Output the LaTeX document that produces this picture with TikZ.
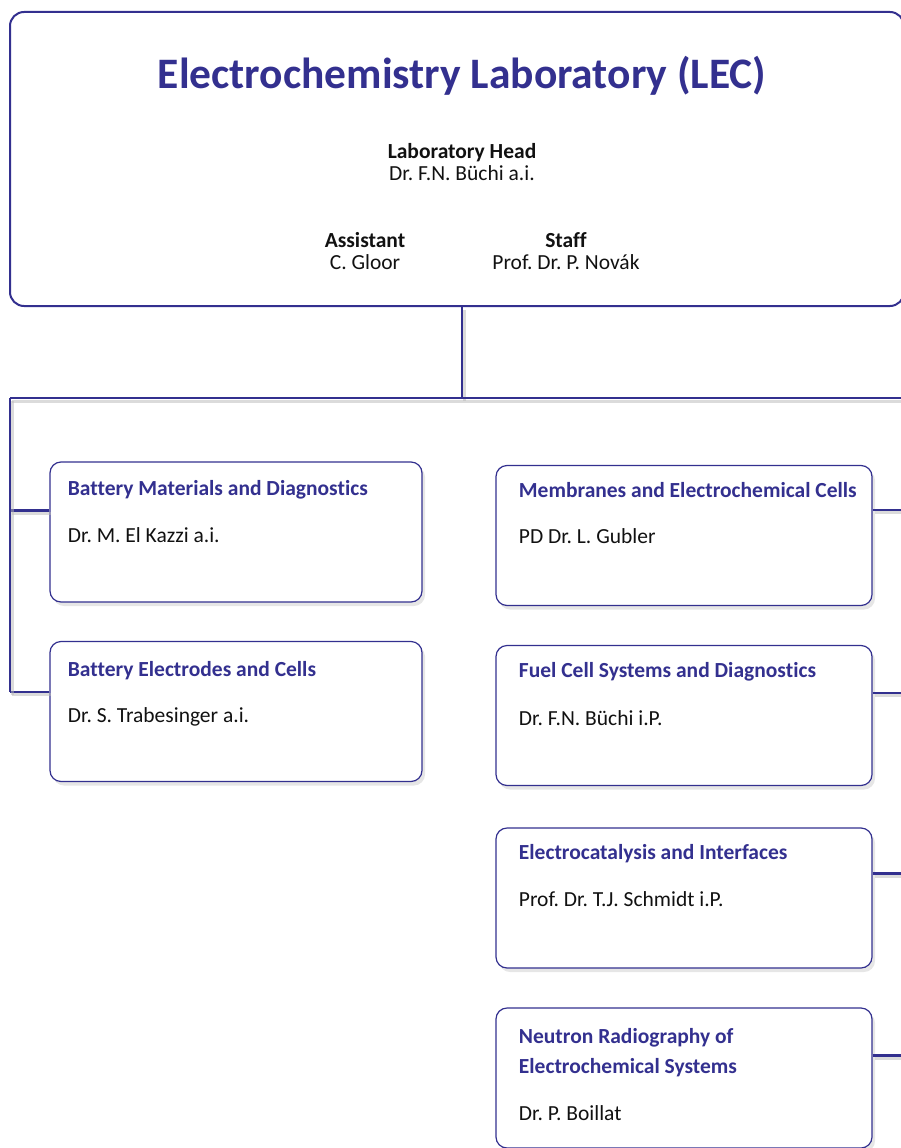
\documentclass[tikz,border=0pt]{standalone}
\usepackage{fontspec}
\setmainfont[Ligatures=NoCommon]{Carlito}
\usetikzlibrary{positioning, calc, shadows}
\definecolor{LabBlue}{HTML}{33308F}
\definecolor{Ink}{HTML}{111111}
\definecolor{Shade}{HTML}{B8B8B8}
\tikzset{
    headbox/.style={rectangle, rounded corners=14pt, draw=LabBlue, line width=2pt, minimum width=894pt, minimum height=294pt},
    unitbox/.style={rectangle, rounded corners=11pt, draw=LabBlue, line width=1.2pt, fill=white, minimum width=372pt, minimum height=140pt,
        drop shadow={shadow xshift=3pt, shadow yshift=-4pt, opacity=0.35, fill=Shade}},
    labtitle/.style={text=LabBlue, font=\fontsize{43.5}{50}\selectfont\bfseries},
    rolename/.style={text=Ink, align=center, font=\fontsize{21.5}{22}\selectfont},
    unittitle/.style={anchor=west, text=LabBlue, align=left, font=\fontsize{21.5}{30}\selectfont\bfseries},
    person/.style={anchor=west, text=Ink, font=\fontsize{21.5}{26}\selectfont},
    link/.style={draw=LabBlue, line width=2.2pt,
        preaction={draw=Shade, opacity=0.5, line width=3pt, transform canvas={shift={(2pt,-3pt)}}}},
}

\begin{document}
\frenchspacing
\begin{tikzpicture}[x=1pt, y=-1pt]
    \useasboundingbox (0,0) rectangle (901,1148);

    % Kopf
    \node[headbox] (lab) at (457,159) {};
    \node[labtitle] (title) at (462,76) {Electrochemistry Laboratory (LEC)};
    \node[rolename] (head) at (462,162) {\textbf{Laboratory Head}\\Dr. F.N. Büchi a.i.};
    \node[rolename] (assist) at (365,251) {\textbf{Assistant}\\C. Gloor};
    \node[rolename] (staff) at (566,251) {\textbf{Staff}\\Prof. Dr. P. Novák};

    % Sammelschienen
    \coordinate (hub) at (462,398);
    \coordinate (lbus) at (10,398);
    \coordinate (rbus) at (910,398);

    % Gruppen links
    \node[unitbox] (b1) at (236,532) {};
    \node[unitbox] (b2) at (236,711.5) {};
    % Gruppen rechts
    \node[unitbox, minimum width=376pt] (b3) at (684,535.5) {};
    \node[unitbox, minimum width=376pt] (b4) at (684,715.5) {};
    \node[unitbox, minimum width=376pt] (b5) at (684,898) {};
    \node[unitbox, minimum width=376pt] (b6) at (684,1078) {};

    % Texte
    \node[unittitle] (t1) at ($(b1.north west)+(15,28)$) {Battery Materials and Diagnostics};
    \node[person] (p1) at ($(t1.west)+(0,46)$) {Dr. M. El Kazzi a.i.};
    \node[unittitle] (t2) at ($(b2.north west)+(15,30)$) {Battery Electrodes and Cells};
    \node[person] (p2) at ($(t2.west)+(0,46)$) {Dr. S. Trabesinger a.i.};
    \node[unittitle] (t3) at ($(b3.north west)+(20,25)$) {Membranes and Electrochemical Cells};
    \node[person] (p3) at ($(t3.west)+(0,46)$) {PD Dr. L. Gubler};
    \node[unittitle] (t4) at ($(b4.north west)+(20,27)$) {Fuel Cell Systems and Diagnostics};
    \node[person] (p4) at ($(t4.west)+(0,46)$) {Dr. F.N. Büchi i.P.};
    \node[unittitle] (t5) at ($(b5.north west)+(20,26)$) {Electrocatalysis and Interfaces};
    \node[person] (p5) at ($(t5.west)+(0,46)$) {Prof. Dr. T.J. Schmidt i.P.};
    \node[unittitle, anchor=north west] (t6) at ($(b6.north west)+(20,17)$) {Neutron Radiography of\\Electrochemical Systems};
    \node[person] (p6) at ($(t6.south west)+(0,33)$) {Dr. P. Boillat};

    % Linien
    \draw[link] (lab.south -| hub) -- (hub);
    \draw[link] (lbus) -- (rbus);
    \draw[link] ($(b1.north west)+(0,49)$) coordinate (c1) -- (c1 -| lbus);
    \draw[link] ($(b2.north west)+(0,51)$) coordinate (c2) -- (c2 -| lbus);
    \draw[link] (lbus) -- (c2 -| lbus);
    \draw[link] ($(b3.north east)+(0,45)$) coordinate (c3) -- (c3 -| rbus);
    \draw[link] ($(b4.north east)+(0,48)$) coordinate (c4) -- (c4 -| rbus);
    \draw[link] ($(b5.north east)+(0,46)$) coordinate (c5) -- (c5 -| rbus);
    \draw[link] ($(b6.north east)+(0,48)$) coordinate (c6) -- (c6 -| rbus);
    \draw[link] (rbus) -- (c6 -| rbus);
\end{tikzpicture}
\end{document}
